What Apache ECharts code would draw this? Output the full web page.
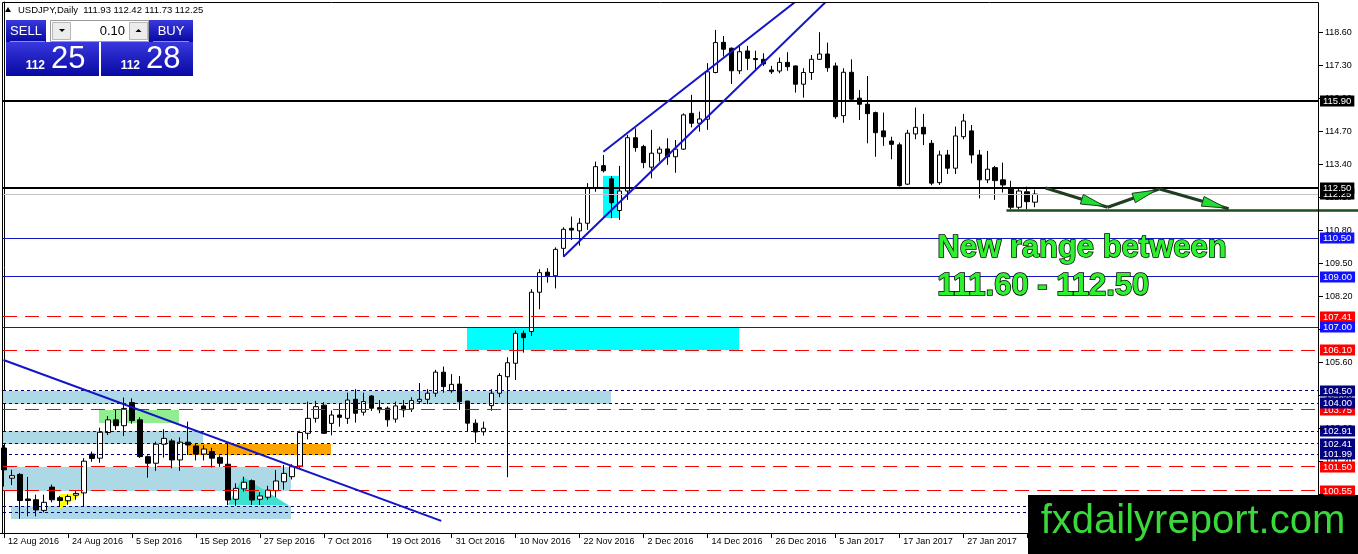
<!DOCTYPE html>
<html><head><meta charset="utf-8">
<script src="https://cdn.jsdelivr.net/npm/echarts@6/dist/echarts.min.js"></script>
<style>html,body{margin:0;padding:0;background:#fff}#c{width:1358px;height:554px}</style>
</head><body><div id="c"></div>
<script>
// ---------- DATA ----------
const symbolName = 'USDJPY,Daily';
const firstBarDate = '2016-08-12';
const futureBars = 35;
// [open, high, low, close] per daily bar
const candles = [
[102.24,102.36,100.72,101.38],[101.05,101.38,100.78,101.15],[101.20,101.25,99.45,100.17],[100.23,101.10,99.55,100.17],[100.20,100.40,99.55,99.80],
[99.78,100.40,99.70,100.10],[100.70,100.80,100.10,100.20],[100.28,100.35,99.95,100.17],[100.16,100.40,100.00,100.33],[100.38,100.55,100.20,100.45],
[100.47,101.84,99.94,101.72],[102.00,102.10,101.70,101.83],[101.84,103.04,101.66,102.86],[102.85,103.50,102.75,103.35],[103.35,103.75,102.95,103.12],
[103.12,104.23,102.71,103.80],[104.03,104.20,103.20,103.32],[103.35,103.45,101.85,101.90],[101.90,101.95,101.07,101.64],[101.64,102.49,101.34,102.39],
[102.39,102.98,101.86,102.62],[102.52,102.60,101.44,101.77],[101.77,102.66,101.34,102.47],[102.47,103.28,101.97,102.36],[102.32,102.40,101.75,102.00],
[102.00,102.35,101.75,102.20],[102.10,102.25,101.47,101.84],[101.87,101.95,101.50,101.64],[101.60,102.43,99.99,100.19],[100.22,100.85,99.96,100.65],
[100.63,101.11,100.52,100.89],[100.95,101.00,99.99,100.19],[100.22,100.50,99.99,100.35],[100.30,100.75,100.20,100.58],[100.56,101.37,100.30,100.94],
[100.91,101.57,100.60,101.24],[101.11,101.60,101.00,101.50],[101.53,102.92,101.45,102.85],[102.82,104.07,102.58,103.41],[103.41,104.10,103.24,103.87],
[103.93,104.05,102.80,102.82],[103.21,103.72,102.74,103.54],[103.54,104.00,103.08,103.45],[103.41,104.42,103.19,104.13],[104.16,104.56,103.24,103.61],
[103.65,104.42,103.52,104.07],[104.29,104.32,103.70,103.81],[103.83,104.13,103.61,103.75],[103.81,103.88,103.08,103.35],[103.38,104.07,103.24,103.90],
[103.90,104.13,103.45,103.74],[103.78,104.24,103.66,104.11],[104.08,104.80,104.00,104.16],[104.16,104.56,103.97,104.40],[104.40,105.32,104.26,105.23],
[105.23,105.45,104.42,104.66],[104.50,105.15,104.42,104.75],[104.76,105.08,103.74,104.07],[104.09,104.10,102.88,103.22],[103.22,103.37,102.45,102.87],
[102.88,103.28,102.73,103.02],[103.91,104.56,103.71,104.40],[104.40,105.19,104.24,105.10],[105.05,105.82,101.09,105.60],[105.58,106.87,104.92,106.76],
[106.76,106.87,106.00,106.59],[106.83,108.50,106.66,108.38],[108.38,109.29,107.71,109.15],[109.17,109.33,108.76,109.03],[109.03,110.15,108.53,110.07],
[110.11,110.94,109.78,110.86],[110.90,111.36,110.44,110.83],[110.80,111.30,110.22,111.10],[111.10,112.68,110.84,112.48],[112.48,113.53,112.34,113.33],
[113.37,113.79,113.10,113.17],[112.85,112.96,111.30,111.91],[111.60,113.36,111.23,112.37],[112.37,114.58,112.02,114.47],[114.47,114.84,113.92,114.08],
[114.12,114.19,113.27,113.49],[113.31,114.78,112.87,113.86],[113.86,114.12,113.53,114.02],[114.03,114.45,113.40,113.72],[113.72,114.38,113.09,114.02],
[114.02,115.43,113.99,115.37],[115.43,116.16,114.88,115.04],[115.04,115.50,114.71,115.21],[115.20,117.41,114.78,117.07],[117.04,118.72,117.01,118.22],
[118.23,118.48,117.67,117.96],[118.00,118.02,116.59,117.11],[117.11,118.13,116.98,117.86],[117.89,118.09,117.14,117.60],[117.59,117.90,117.14,117.55],
[117.56,117.80,117.30,117.38],[117.14,117.30,116.98,117.07],[117.10,117.63,117.01,117.44],[117.44,117.84,117.11,117.27],[117.30,117.32,116.25,116.58],
[116.58,117.21,116.05,117.04],[117.04,117.73,116.75,117.56],[117.56,118.63,117.54,117.77],[117.77,118.22,117.07,117.23],[117.30,117.43,115.22,115.30],
[115.34,117.21,115.06,117.05],[117.05,117.56,115.92,115.99],[116.03,116.35,115.17,115.79],[115.79,116.90,114.25,115.42],[115.46,115.50,113.72,114.67],
[114.74,115.46,114.15,114.51],[114.34,114.51,113.62,114.21],[114.19,114.28,112.55,112.58],[112.64,114.78,112.61,114.65],[114.62,115.66,114.41,114.88],
[114.88,115.41,114.18,114.62],[114.25,114.38,112.60,112.68],[112.70,113.96,112.61,113.79],[113.79,113.99,113.04,113.27],[113.27,114.91,113.04,114.54],
[114.51,115.41,114.41,115.13],[114.74,114.97,113.46,113.79],[113.79,113.99,112.08,112.81],[112.81,113.95,112.68,113.23],[113.29,113.36,112.02,112.78],
[112.81,113.49,112.31,112.61],[112.44,112.77,111.65,111.73],[111.73,112.48,111.65,112.37],[112.34,112.54,111.65,111.95],[111.93,112.42,111.73,112.25]
];
const xTickLabels = ['12 Aug 2016','24 Aug 2016','5 Sep 2016','15 Sep 2016','27 Sep 2016','7 Oct 2016','19 Oct 2016','31 Oct 2016','10 Nov 2016','22 Nov 2016','2 Dec 2016','14 Dec 2016','26 Dec 2016','5 Jan 2017','17 Jan 2017','27 Jan 2017','8 Feb 2017'];
const yTickValues = [118.6,117.3,116.0,114.7,113.4,112.1,110.8,109.5,108.2,106.9,105.6,104.3,103.0,101.7,100.4,99.1];
// horizontal levels
const levelPrices = [115.90,112.25,112.50,110.50,109.00,107.41,107.00,106.10,104.50,103.75,104.00,102.91,102.41,101.99,101.50,100.55,99.92,99.68];
const levelKinds  = ['black','bid','black','blue','blue','red','blue','red','navy','red','navy','navy','navy','navy','red','red','navy','navy'];
// zones: [barFrom, barTo, priceLow, priceHigh]
const zoneRects = [[-0.1,75.9,104.00,104.50],[-0.1,24.9,102.41,102.91],[-0.1,35.9,100.55,101.50],[0.9,35.9,99.45,99.95],
                   [11.9,21.9,103.22,103.74],[22.9,40.9,101.99,102.41],[57.9,91.9,106.10,107.00],[74.9,76.9,111.32,112.96]];
const zoneKinds = ['lightblue','lightblue','lightblue','lightblue','green','orange','cyan','cyan'];
// triangles: [bar,price, bar,price, bar,price]
const triangles = [[6.98,100.42,6.98,99.83,9.98,100.48],[28.0,100.0,29.9,101.11,35.7,99.96]];
const triangleKinds = ['yellow','turquoise'];
// trend lines: [bar0, price0, bar1, price1]
const trendLines = [[-0.06,105.71,54.7,99.37],[74.98,113.92,104,121.06],[69.98,109.78,104,120.19]];
const rangeArrows = [[130.3,112.49,138.06,111.73],[138.06,111.73,144.5,112.45],[144.56,112.45,153.2,111.67]];
const supportLines = [[125.4,111.60,170,111.60]];
const noteLines = ['New range between','111.60 - 112.50'];
const notePos = [[116.75,110.09],[116.75,108.59]];
const watermarkText = 'fxdailyreport.com';
const panelSell = ['112','25'];
const panelBuy = ['112','28'];
const panelLot = '0.10';

// ---------- BUILD ----------
const FONT = '"Liberation Sans", Arial, sans-serif';
function tradingDays(start, n){
  const out=[]; const d=new Date(start+'T00:00:00Z');
  while(out.length<n){ const wd=d.getUTCDay(); if(wd!==0&&wd!==6) out.push(d.toISOString().slice(0,10)); d.setUTCDate(d.getUTCDate()+1); }
  return out;
}
const nBars = candles.length;
const categories = tradingDays(firstBarDate, nBars).concat(Array.from({length:futureBars},(_,k)=>'f'+k));
const nCat = categories.length;

const lineStyles = {
  black:{stroke:'#000',lineWidth:2,lineDash:null},
  bid:{stroke:'#c4c4c4',lineWidth:1,lineDash:null},
  blue:{stroke:'#1515c0',lineWidth:1,lineDash:null},
  red:{stroke:'#ff0000',lineWidth:1,lineDash:[14,8]},
  navy:{stroke:'#000080',lineWidth:1,lineDash:[3,3]}
};
const tagColors = {black:'#000',bid:'#000',blue:'#1212ff',red:'#ff0000',navy:'#000080'};
const zoneColors = {lightblue:'#add8e6',green:'#90ee90',orange:'#ffa500',cyan:'#00ffff'};
const triColors = {yellow:'#ffff00',turquoise:'#40e0d0'};

const showTick = (idx) => idx % 8 === 0 && idx < nBars;
const crisp = (y, w) => (w % 2 === 1) ? Math.round(y - 0.5) + 0.5 : Math.round(y);

const last = candles[nBars-1];
const headerText = symbolName + '  ' + last.map(v=>v.toFixed(2)).join(' ');

const panelBlue = {type:'linear',x:0,y:0,x2:0,y2:1,colorStops:[{offset:0,color:'#3838de'},{offset:1,color:'#0808a2'}]};

const option = {
  animation:false,
  backgroundColor:'#fff',
  grid:{left:-1,right:39,top:2,bottom:21,containLabel:false},
  xAxis:[
    {type:'category',data:categories,boundaryGap:true,
     axisLine:{show:true,lineStyle:{color:'#000',width:1}},
     axisTick:{show:true,alignWithLabel:true,interval:(i)=>showTick(i),length:5,lineStyle:{color:'#000'}},
     axisLabel:{show:true,interval:(i)=>showTick(i),formatter:(v,i)=>showTick(i)?xTickLabels[i/8]:'',
       align:'left',padding:[0,0,0,4],margin:4,fontSize:9,color:'#000',fontFamily:FONT},
     splitLine:{show:false}},
    {type:'value',min:-0.5,max:nCat-0.5,show:false,gridIndex:0,
     axisLine:{show:false},axisTick:{show:false},axisLabel:{show:false},splitLine:{show:false}}
  ],
  yAxis:[{type:'value',position:'right',min:98.89,max:119.82,
    axisLine:{show:true,lineStyle:{color:'#000'}},
    axisTick:{show:false},
    axisLabel:{show:true,customValues:yTickValues,formatter:(v)=>Number(v).toFixed(2),fontSize:9,color:'#000',margin:6,fontFamily:FONT},
    splitLine:{show:false}}],
  series:[
    {type:'custom',name:'zones',xAxisIndex:1,yAxisIndex:0,z:1,clip:true,silent:true,
     data:zoneRects,
     renderItem:(params,api)=>{
       const r=zoneRects[params.dataIndex];
       const a=api.coord([r[0],r[3]]), b=api.coord([r[1],r[2]]);
       return {type:'rect',shape:{x:Math.round(a[0]),y:Math.round(a[1]),width:Math.round(b[0]-a[0]),height:Math.round(b[1]-a[1])},style:{fill:zoneColors[zoneKinds[params.dataIndex]]}};
     }},
    {type:'custom',name:'triangles',xAxisIndex:1,yAxisIndex:0,z:1,clip:true,silent:true,
     data:triangles,
     renderItem:(params,api)=>{
       const t=triangles[params.dataIndex];
       const pts=[api.coord([t[0],t[1]]),api.coord([t[2],t[3]]),api.coord([t[4],t[5]])];
       return {type:'polygon',shape:{points:pts},style:{fill:triColors[triangleKinds[params.dataIndex]]}};
     }},
    {type:'candlestick',name:'USDJPY',xAxisIndex:0,yAxisIndex:0,z:2,barWidth:5,silent:true,
     data:candles.map(c=>[c[0],c[3],c[2],c[1]]),
     itemStyle:{color:'#ffffff',color0:'#000000',borderColor:'#000000',borderColor0:'#000000',borderWidth:1}},
    {type:'custom',name:'levels',xAxisIndex:1,yAxisIndex:0,z:3,clip:false,silent:true,
     data:levelPrices,
     renderItem:(params,api)=>{
       const p=levelPrices[params.dataIndex], kind=levelKinds[params.dataIndex], ls=lineStyles[kind];
       const a=api.coord([-0.5,p]), b=api.coord([nCat-0.5,p]);
       const y=crisp(a[1], ls.lineWidth);
       return {type:'group',children:[
         {type:'line',shape:{x1:3,y1:y,x2:b[0],y2:y},style:{stroke:ls.stroke,lineWidth:ls.lineWidth,lineDash:ls.lineDash}},
         {type:'text',x:Math.round(b[0])+1,y:Math.round(a[1]),style:{text:p.toFixed(2),font:'9.5px '+FONT,fill:'#fff',
           backgroundColor:tagColors[kind],padding:[1,3,0,3],lineHeight:10,align:'left',verticalAlign:'middle'}}
       ]};
     }},
    {type:'custom',name:'yticks',xAxisIndex:1,yAxisIndex:0,z:3,clip:false,silent:true,
     data:yTickValues,
     renderItem:(params,api)=>{
       const a=api.coord([nCat-0.5,yTickValues[params.dataIndex]]);
       const y=crisp(a[1],1);
       return {type:'line',shape:{x1:a[0],y1:y,x2:a[0]+4,y2:y},style:{stroke:'#000',lineWidth:1}};
     }},
    {type:'custom',name:'trend',xAxisIndex:1,yAxisIndex:0,z:4,clip:true,silent:true,
     data:trendLines,
     renderItem:(params,api)=>{
       const t=trendLines[params.dataIndex];
       const a=api.coord([t[0],t[1]]), b=api.coord([t[2],t[3]]);
       return {type:'line',shape:{x1:a[0],y1:a[1],x2:b[0],y2:b[1]},style:{stroke:'#1414c8',lineWidth:2}};
     }},
    {type:'custom',name:'support',xAxisIndex:1,yAxisIndex:0,z:4,clip:false,silent:true,
     data:supportLines,
     renderItem:(params,api)=>{
       const t=supportLines[params.dataIndex];
       const a=api.coord([t[0],t[1]]), b=api.coord([t[2],t[3]]);
       return {type:'line',shape:{x1:a[0],y1:a[1],x2:b[0],y2:b[1]},style:{stroke:'#1d4d1d',lineWidth:2.5}};
     }},
    {type:'custom',name:'arrows',xAxisIndex:1,yAxisIndex:0,z:5,clip:false,silent:true,
     data:rangeArrows,
     renderItem:(params,api)=>{
       const t=rangeArrows[params.dataIndex];
       const a=api.coord([t[0],t[1]]), b=api.coord([t[2],t[3]]);
       const dx=b[0]-a[0], dy=b[1]-a[1], L=Math.hypot(dx,dy), ux=dx/L, uy=dy/L, nx=-uy, ny=ux;
       const tip=[b[0]-ux*3,b[1]-uy*3], base=[tip[0]-ux*24,tip[1]-uy*24];
       return {type:'group',children:[
         {type:'line',shape:{x1:a[0],y1:a[1],x2:b[0],y2:b[1]},style:{stroke:'#1f3d1f',lineWidth:3}},
         {type:'polygon',shape:{points:[tip,[base[0]+nx*5,base[1]+ny*5],[base[0]-nx*5,base[1]-ny*5]]},style:{fill:'#22dd33',stroke:'#1f3d1f',lineWidth:1}}
       ]};
     }},
    {type:'custom',name:'note',xAxisIndex:1,yAxisIndex:0,z:6,clip:false,silent:true,
     data:notePos,
     renderItem:(params,api)=>{
       const p=notePos[params.dataIndex];
       const c=api.coord(p);
       return {type:'text',x:c[0],y:c[1],style:{text:noteLines[params.dataIndex],font:'bold 31px '+FONT,fill:'#2ef02e',stroke:'#000',lineWidth:1.5,align:'left',verticalAlign:'middle'}};
     }}
  ],
  graphic:[
    {type:'rect',z:10,silent:true,shape:{x:2.5,y:2.5,width:1316,height:531},style:{fill:'none',stroke:'#000',lineWidth:1}},
    {type:'polygon',z:10,shape:{points:[[5,12],[11,12],[8,7]]},style:{fill:'#000'}},
    {type:'text',z:10,x:18,y:10,style:{text:headerText,font:'9.5px '+FONT,fill:'#000',verticalAlign:'middle'}},
    {type:'rect',z:10,shape:{x:6,y:20,width:40,height:22},style:{fill:panelBlue}},
    {type:'rect',z:10,shape:{x:149,y:20,width:44,height:22},style:{fill:panelBlue}},
    {type:'rect',z:10,shape:{x:6,y:42,width:93,height:34},style:{fill:panelBlue}},
    {type:'rect',z:10,shape:{x:101,y:42,width:92,height:34},style:{fill:panelBlue}},
    {type:'line',z:11,shape:{x1:10,y1:41.5,x2:45,y2:41.5},style:{stroke:'#8c8cf0',lineWidth:1}},
    {type:'line',z:11,shape:{x1:153,y1:41.5,x2:189,y2:41.5},style:{stroke:'#8c8cf0',lineWidth:1}},
    {type:'rect',z:10,shape:{x:50.5,y:20.5,width:98,height:21},style:{fill:'#fff',stroke:'#9a9a9a',lineWidth:1}},
    {type:'rect',z:11,shape:{x:52.5,y:22.5,width:18,height:17},style:{fill:'#ececec',stroke:'#b8b8b8',lineWidth:1}},
    {type:'polygon',z:12,shape:{points:[[59,29],[65,29],[62,32]]},style:{fill:'#000'}},
    {type:'rect',z:11,shape:{x:129.5,y:22.5,width:18,height:17},style:{fill:'#ececec',stroke:'#b8b8b8',lineWidth:1}},
    {type:'polygon',z:12,shape:{points:[[135.5,32],[141.5,32],[138.5,29]]},style:{fill:'#000'}},
    {type:'text',z:12,x:26,y:31,style:{text:'SELL',font:'13px '+FONT,fill:'#fff',align:'center',verticalAlign:'middle'}},
    {type:'text',z:12,x:171,y:31,style:{text:'BUY',font:'13px '+FONT,fill:'#fff',align:'center',verticalAlign:'middle'}},
    {type:'text',z:12,x:125,y:31,style:{text:panelLot,font:'13px '+FONT,fill:'#000',align:'right',verticalAlign:'middle'}},
    {type:'text',z:12,x:45,y:66,style:{text:panelSell[0],font:'bold 12px '+FONT,fill:'#fff',align:'right',verticalAlign:'middle'}},
    {type:'text',z:12,x:51,y:59.5,style:{text:panelSell[1],font:'31px '+FONT,fill:'#fff',align:'left',verticalAlign:'middle'}},
    {type:'text',z:12,x:140,y:66,style:{text:panelBuy[0],font:'bold 12px '+FONT,fill:'#fff',align:'right',verticalAlign:'middle'}},
    {type:'text',z:12,x:146,y:59.5,style:{text:panelBuy[1],font:'31px '+FONT,fill:'#fff',align:'left',verticalAlign:'middle'}},
    {type:'rect',z:100,shape:{x:1028,y:495,width:330,height:59},style:{fill:'#000'}},
    {type:'text',z:101,x:1193,y:522,style:{text:watermarkText,font:'40px '+FONT,fill:'#3ad83a',align:'center',verticalAlign:'middle'}}
  ]
};
const chart = echarts.init(document.getElementById('c'),null,{renderer:'canvas'});
chart.setOption(option);
</script>
</body></html>
